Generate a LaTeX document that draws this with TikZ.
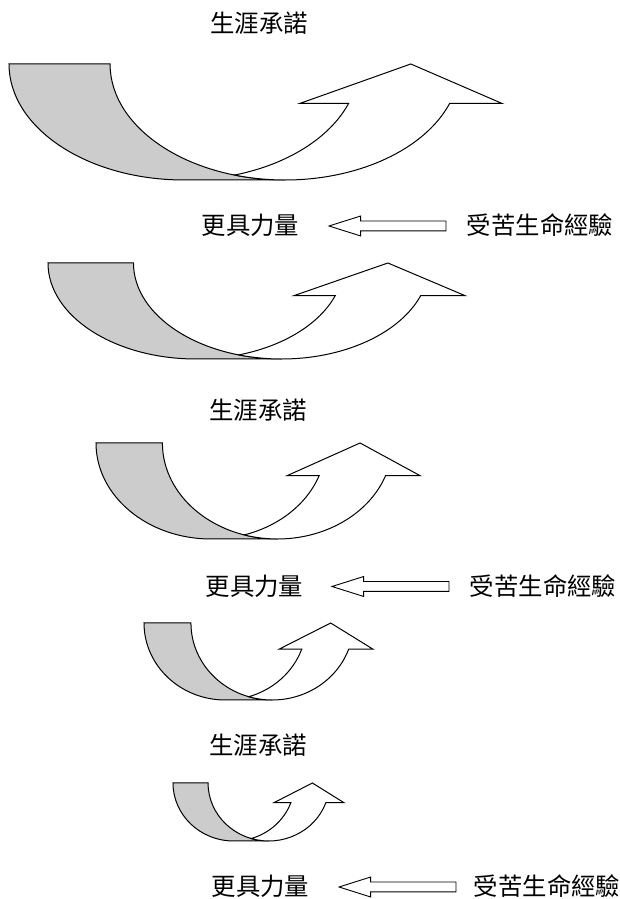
\documentclass[tikz,border=0pt]{standalone}
\usepackage{fontspec}
\newfontfamily\cjk{Noto Sans CJK TC}
\usetikzlibrary{shapes.arrows}
% curved up arrow: left, bottom, width, height
\newcommand{\turnarrow}[4]{%
  \begin{scope}[shift={(#1,#2)}, xscale=#3, yscale=#4]
    \filldraw[back] (0,1) arc[start angle=180, end angle=270, x radius=0.355, y radius=1]
      -- (0.56,0) arc[start angle=270, end angle=180, x radius=0.355, y radius=1] -- cycle;
    \filldraw[front] (0.4575,0.0426) arc[start angle=286.78, end angle=340.12, x radius=0.355, y radius=1]
      -- (0.59,0.66) -- (0.815,1) -- (1,0.66) -- (0.8938,0.66)
      arc[start angle=340.12, end angle=253.22, x radius=0.355, y radius=1] -- cycle;
  \end{scope}}
\begin{document}
\begin{tikzpicture}[x=1pt, y=1pt]
    \tikzstyle{lbl} = [font=\cjk\fontsize{24.4}{28}\selectfont, text height=20pt, text depth=2pt, inner sep=0pt]
    \tikzstyle{back} = [fill=gray!40, draw=black, line width=1pt]
    \tikzstyle{front} = [fill=white, draw=black, line width=1pt]
    \tikzstyle{leftarrow} = [single arrow, draw=black, line width=0.9pt, shape border rotate=180, minimum height=117pt, inner xsep=0pt, inner ysep=4.5pt, single arrow head extend=5pt, single arrow tip angle=35]
    \useasboundingbox (0,0) rectangle (620,899);
    \turnarrow{9}{719}{493}{116}
    \turnarrow{48}{540}{417}{96}
    \turnarrow{96}{360}{324}{96}
    \turnarrow{144}{199}{229}{77}
    \turnarrow{173}{58}{171}{58}
    \node (goal1) [lbl] at (259, 875) {生涯承諾};
    \node (power1) [lbl] at (250.5, 673) {更具力量};
    \node (exp1) [lbl] at (540, 673) {受苦生命經驗};
    \node (goal2) [lbl] at (258, 488) {生涯承諾};
    \node (power2) [lbl] at (254.5, 312.5) {更具力量};
    \node (exp2) [lbl] at (543, 312.5) {受苦生命經驗};
    \node (goal3) [lbl] at (258, 153) {生涯承諾};
    \node (power3) [lbl] at (260.5, 12) {更具力量};
    \node (exp3) [lbl] at (547, 12) {受苦生命經驗};
    \node (arr1) [leftarrow, anchor=tip] at ([xshift=28pt]power1.east) {};
    \node (arr2) [leftarrow, anchor=tip] at ([xshift=27pt]power2.east) {};
    \node (arr3) [leftarrow, anchor=tip] at ([xshift=28pt]power3.east) {};
\end{tikzpicture}
\end{document}
